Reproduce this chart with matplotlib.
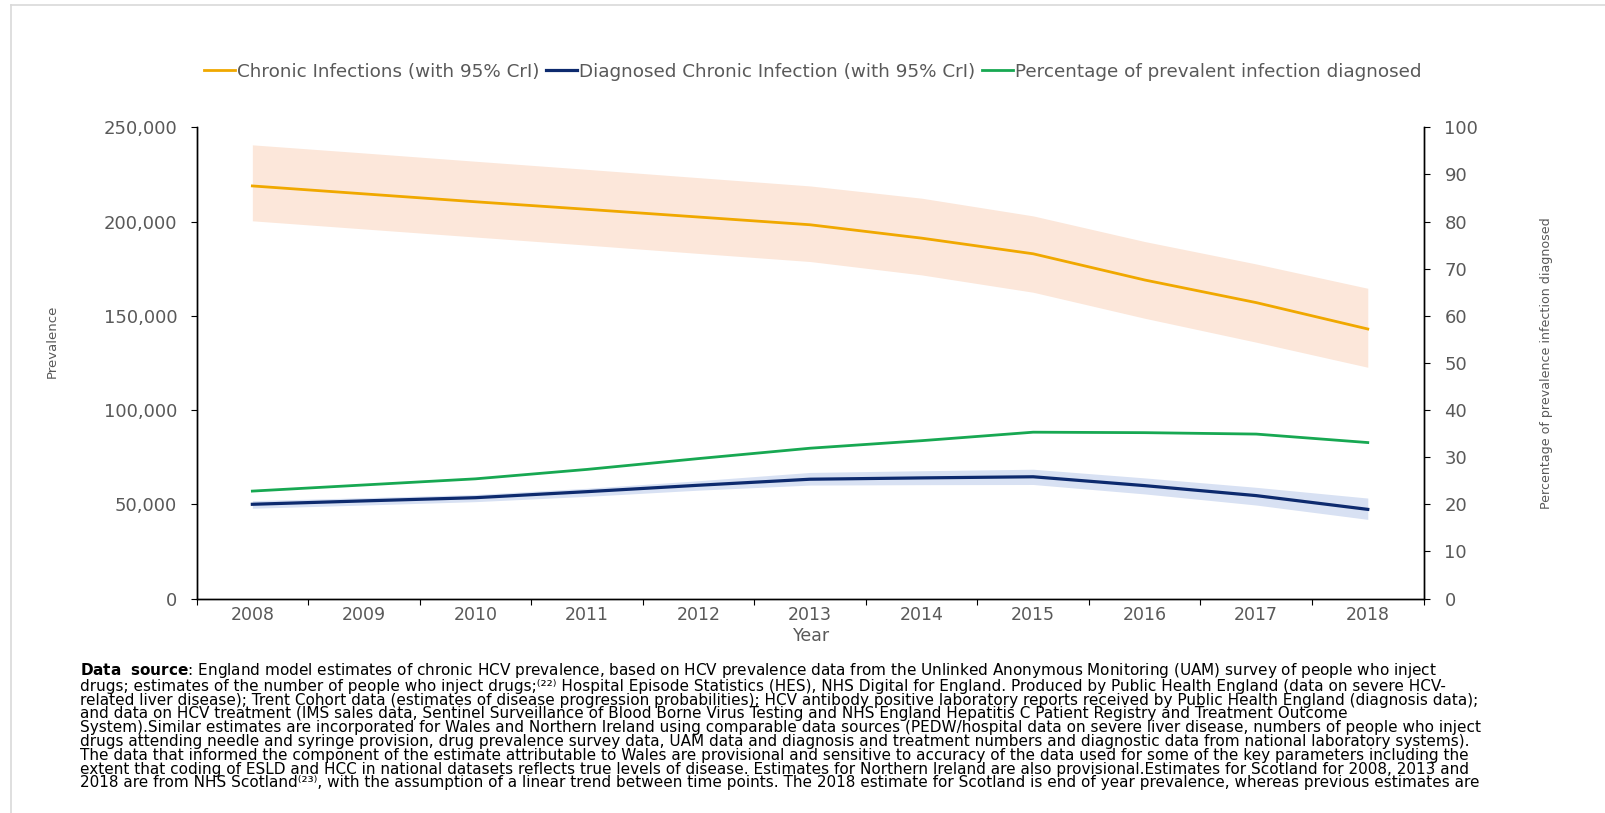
import matplotlib
matplotlib.use("Agg")
import matplotlib.pyplot as plt
from matplotlib.lines import Line2D
from matplotlib.ticker import FuncFormatter, MultipleLocator, FixedLocator
import numpy as np

years = [2008, 2009, 2010, 2011, 2012, 2013, 2014, 2015, 2016, 2017, 2018]

chronic = [218900, 214700, 210500, 206500, 202400, 198300, 191200, 182900, 169000, 157000, 143000]
chronic_hi = [240700, 236400, 232000, 227700, 223300, 218900, 212400, 203000, 189400, 177500, 164600]
chronic_lo = [200400, 196100, 191800, 187500, 183100, 178800, 171700, 162500, 148700, 136000, 122700]

diagnosed = [50000, 51800, 53500, 56700, 60100, 63300, 64000, 64600, 59900, 54600, 47300]
diagnosed_hi = [51900, 53500, 55200, 58500, 62500, 66900, 67800, 68600, 64000, 59000, 53300]
diagnosed_lo = [47900, 49600, 51400, 54200, 57500, 60200, 60400, 60500, 55500, 49600, 42000]

pct_diagnosed = [22.8, 24.1, 25.4, 27.4, 29.7, 31.9, 33.5, 35.3, 35.2, 34.9, 33.1]

legend_labels = [
    "Chronic Infections (with 95% CrI)",
    "Diagnosed Chronic Infection (with 95% CrI)",
    "Percentage of prevalent infection diagnosed",
]

footnote_lines = [
    r"$\bf{Data\ \ source}$: England model estimates of chronic HCV prevalence, based on HCV prevalence data from the Unlinked Anonymous Monitoring (UAM) survey of people who inject",
    "drugs; estimates of the number of people who inject drugs;\u207d\u00b2\u00b2\u207e Hospital Episode Statistics (HES), NHS Digital for England. Produced by Public Health England (data on severe HCV-",
    "related liver disease); Trent Cohort data (estimates of disease progression probabilities); HCV antibody positive laboratory reports received by Public Health England (diagnosis data);",
    "and data on HCV treatment (IMS sales data, Sentinel Surveillance of Blood Borne Virus Testing and NHS England Hepatitis C Patient Registry and Treatment Outcome",
    "System).Similar estimates are incorporated for Wales and Northern Ireland using comparable data sources (PEDW/hospital data on severe liver disease, numbers of people who inject",
    "drugs attending needle and syringe provision, drug prevalence survey data, UAM data and diagnosis and treatment numbers and diagnostic data from national laboratory systems).",
    "The data that informed the component of the estimate attributable to Wales are provisional and sensitive to accuracy of the data used for some of the key parameters including the",
    "extent that coding of ESLD and HCC in national datasets reflects true levels of disease. Estimates for Northern Ireland are also provisional.Estimates for Scotland for 2008, 2013 and",
    "2018 are from NHS Scotland\u207d\u00b2\u00b3\u207e, with the assumption of a linear trend between time points. The 2018 estimate for Scotland is end of year prevalence, whereas previous estimates are",
]

plt.rcParams["font.family"] = "DejaVu Sans"
plt.rcParams["mathtext.fontset"] = "dejavusans"

ORANGE = "#F0A800"
PEACH = "#FCE7DA"
NAVY = "#0D2A6E"
LIGHTBLUE = "#D8E1F3"
GREEN = "#17A852"
GREY_TXT = "#595959"

fig = plt.figure(figsize=(16.06, 8.13), dpi=100)
ax = fig.add_axes([0.1224, 0.2638, 0.764, 0.5796])
ax2 = ax.twinx()

# bands and lines
ax.fill_between(years, chronic_lo, chronic_hi, color=PEACH, lw=0, zorder=1)
ax.fill_between(years, diagnosed_lo, diagnosed_hi, color=LIGHTBLUE, lw=0, zorder=1)
l1, = ax.plot(years, chronic, color=ORANGE, lw=2.0, zorder=3)
l2, = ax.plot(years, diagnosed, color=NAVY, lw=2.3, zorder=3)
l3, = ax2.plot(years, pct_diagnosed, color=GREEN, lw=2.0, zorder=3)

ax.set_xlim(2007.5, 2018.5)
ax.set_ylim(0, 250000)
ax2.set_ylim(0, 100)

ax.yaxis.set_major_locator(MultipleLocator(50000))
ax.yaxis.set_major_formatter(FuncFormatter(lambda v, p: f"{int(v):,}"))
ax2.yaxis.set_major_locator(MultipleLocator(10))

ax.set_xticks(years)
ax.set_xticklabels([str(y) for y in years])
ax.xaxis.set_minor_locator(FixedLocator(np.arange(2007.5, 2019, 1.0)))
ax.tick_params(axis="x", which="major", length=0, pad=5.5, labelsize=12.5, labelcolor=GREY_TXT)
ax.tick_params(axis="x", which="minor", length=4, width=0.8, color="black")
ax.tick_params(axis="y", length=4, width=0.8, pad=10, labelsize=13, labelcolor=GREY_TXT)
ax2.tick_params(axis="y", length=4, width=0.8, pad=11, labelsize=13, labelcolor=GREY_TXT)

for a in (ax, ax2):
    a.spines["top"].set_visible(False)
    for s in ("left", "right", "bottom"):
        a.spines[s].set_linewidth(1.0)
        a.spines[s].set_color("black")

ax.set_xlabel("Year", fontsize=12.5, color=GREY_TXT, labelpad=0)
ax.xaxis.set_label_coords(0.501, -0.061)
ax.set_ylabel("Prevalence", fontsize=9.5, color=GREY_TXT)
ax.yaxis.set_label_coords(-0.112, 0.545)
ax2.set_ylabel("Percentage of prevalence infection diagnosed", fontsize=9.1, color=GREY_TXT)
ax2.yaxis.set_label_coords(1.095, 0.5)

fig.legend(
    [l1, l2, l3],
    legend_labels,
    loc="center",
    bbox_to_anchor=(0.506, 0.912),
    ncol=3,
    frameon=False,
    fontsize=13.2,
    handlelength=1.7,
    handletextpad=0.12,
    columnspacing=0.35,
    labelcolor=GREY_TXT,
)

# footnote as one block
fig.text(0.0498, 1 - 661 / 813, "\n".join(footnote_lines), fontsize=11,
         color="black", va="top", ha="left", linespacing=0.9)

# light frame edges
fig.add_artist(Line2D([11 / 1606, 11 / 1606], [0, 1 - 5 / 813], color="#D9D9D9", lw=1.2))
fig.add_artist(Line2D([11 / 1606, 1], [1 - 5 / 813, 1 - 5 / 813], color="#D9D9D9", lw=1.2))

fig.savefig("out.png", dpi=100, facecolor="white")
